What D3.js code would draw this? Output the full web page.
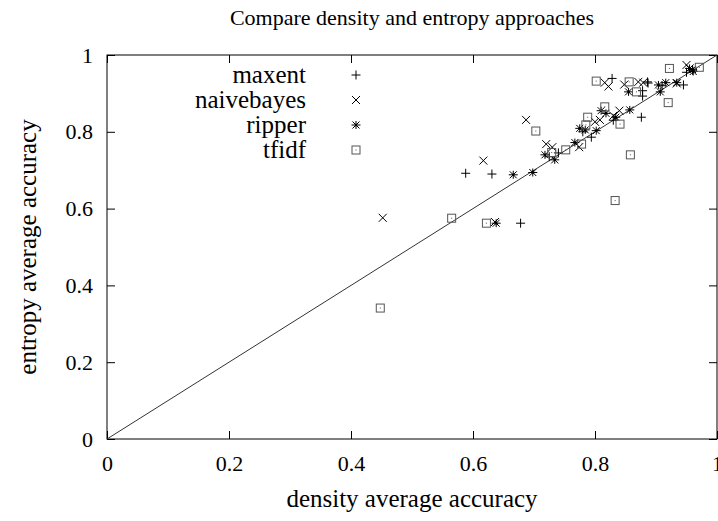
<!DOCTYPE html>
<html>
<head>
<meta charset="utf-8">
<script src="https://cdn.jsdelivr.net/npm/d3@7"></script>
<style>
  body { margin: 0; background: #fff; }
  text { font-family: "Liberation Serif", "DejaVu Serif", serif; fill: #000; }
</style>
</head>
<body>
<svg id="chart"></svg>
<script>
// points are [density accuracy, entropy accuracy]
var maxent = [
  [0.588, 0.692], [0.631, 0.690], [0.678, 0.562], [0.828, 0.939], [0.886, 0.930],
  [0.878, 0.893], [0.876, 0.838], [0.794, 0.786], [0.945, 0.922], [0.887, 0.927],
  [0.878, 0.907], [0.960, 0.960], [0.950, 0.955], [0.740, 0.745], [0.780, 0.800],
  [0.725, 0.735], [0.830, 0.830], [0.910, 0.920]
]
var naivebayes = [
  [0.452, 0.576], [0.617, 0.725], [0.687, 0.831], [0.720, 0.768], [0.730, 0.760],
  [0.774, 0.760], [0.816, 0.928], [0.822, 0.918], [0.848, 0.923], [0.871, 0.930],
  [0.840, 0.855], [0.800, 0.826], [0.808, 0.831], [0.950, 0.974], [0.879, 0.928],
  [0.934, 0.926], [0.955, 0.965], [0.830, 0.842], [0.636, 0.565]
]
var ripper = [
  [0.638, 0.562], [0.666, 0.688], [0.698, 0.694], [0.718, 0.740], [0.734, 0.727],
  [0.767, 0.772], [0.775, 0.809], [0.784, 0.805], [0.802, 0.803], [0.818, 0.848],
  [0.834, 0.838], [0.857, 0.857], [0.855, 0.904], [0.904, 0.922], [0.907, 0.904],
  [0.916, 0.928], [0.961, 0.957], [0.955, 0.965], [0.934, 0.928], [0.960, 0.962],
  [0.810, 0.855]
]
var tfidf = [
  [0.448, 0.341], [0.565, 0.575], [0.622, 0.562], [0.703, 0.802], [0.729, 0.746],
  [0.752, 0.753], [0.778, 0.768], [0.785, 0.818], [0.788, 0.838], [0.802, 0.932],
  [0.816, 0.865], [0.841, 0.820], [0.856, 0.930], [0.868, 0.904], [0.920, 0.876],
  [0.922, 0.965], [0.971, 0.968], [0.858, 0.740], [0.833, 0.621]
]
var series_names = ['maxent', 'naivebayes', 'ripper', 'tfidf']
var series_data = [maxent, naivebayes, ripper, tfidf]
var tick_values = [0, 0.2, 0.4, 0.6, 0.8, 1]

var width = 718, height = 521
var margin = {top: 55, right: 1, bottom: 82, left: 107}
var serif = '"Liberation Serif", "DejaVu Serif", serif'

var svg = d3.select('#chart')
    .attr('width', width)
    .attr('height', height)

var x = d3.scaleLinear().domain([0, 1]).range([margin.left, width - margin.right])
var y = d3.scaleLinear().domain([0, 1]).range([height - margin.bottom, margin.top])

// draws one marker of the given kind centred on 0,0
function drawMarker(g, kind) {
    let s = 4.5
    if (kind == 'maxent') {
        g.append('path').attr('d', 'M' + -s + ',0H' + s + 'M0,' + -s + 'V' + s)
    } else if (kind == 'naivebayes') {
        g.append('path').attr('d', 'M-4,-4L4,4M-4,4L4,-4')
    } else if (kind == 'ripper') {
        g.append('path').attr('d', 'M' + -s + ',0H' + s + 'M-3.5,-3.5L3.5,3.5M-3.5,3.5L3.5,-3.5M0,-4V4')
        g.append('circle').attr('r', 1.3).attr('fill', '#000').attr('stroke', 'none')
    } else {
        g.append('rect').attr('x', -4).attr('y', -4).attr('width', 8).attr('height', 8)
            .attr('fill', 'none').attr('stroke', '#555')
        g.append('rect').attr('x', -0.5).attr('y', -0.5).attr('width', 1).attr('height', 1)
            .attr('fill', '#555').attr('stroke', 'none')
    }
    g.attr('stroke', '#000').attr('stroke-width', 1).attr('fill', 'none')
}

// axes, ticks inward on all four sides
var xAxis = d3.axisBottom(x).tickValues(tick_values).tickSizeInner(-8).tickSizeOuter(0)
    .tickFormat(d3.format('~g')).tickPadding(16)
var yAxis = d3.axisLeft(y).tickValues(tick_values).tickSizeInner(-8).tickSizeOuter(0)
    .tickFormat(d3.format('~g')).tickPadding(14)

var gx = svg.append('g').attr('transform', 'translate(0,' + y(0) + ')').call(xAxis)
var gy = svg.append('g').attr('transform', 'translate(' + x(0) + ',0)').call(yAxis)
svg.append('g').attr('transform', 'translate(0,' + y(1) + ')')
    .call(d3.axisTop(x).tickValues(tick_values).tickSizeInner(-8).tickSizeOuter(0).tickFormat(''))
svg.append('g').attr('transform', 'translate(' + x(1) + ',0)')
    .call(d3.axisRight(y).tickValues(tick_values).tickSizeInner(-8).tickSizeOuter(0).tickFormat(''))

svg.selectAll('.domain').remove()
svg.selectAll('.tick line').attr('stroke', '#000')
gx.attr('font-family', serif).attr('font-size', 22)
gy.attr('font-family', serif).attr('font-size', 22)
gx.selectAll('text').style('font-family', serif).style('font-size', '22px').attr('dy', '0.71em')
gy.selectAll('text').style('font-family', serif).style('font-size', '22px')

svg.append('rect')
    .attr('x', x(0)).attr('y', y(1))
    .attr('width', x(1) - x(0)).attr('height', y(0) - y(1))
    .attr('fill', 'none').attr('stroke', '#000').attr('stroke-width', 1)

// diagonal y = x
svg.append('line')
    .attr('x1', x(0)).attr('y1', y(0))
    .attr('x2', x(1)).attr('y2', y(1))
    .attr('stroke', '#333').attr('stroke-width', 1)

// points
series_names.forEach((name, i) => {
    svg.append('g').selectAll('g')
        .data(series_data[i])
        .enter().append('g')
        .attr('transform', (d) => 'translate(' + x(d[0]) + ',' + y(d[1]) + ')')
        .each(function () { drawMarker(d3.select(this), name) })
})

// legend
var legend = svg.append('g').selectAll('g')
    .data(series_names)
    .enter().append('g')
    .attr('transform', (d, i) => 'translate(0,' + (75 + i * 25) + ')')

legend.append('text')
    .attr('x', 306)
    .attr('dy', '0.32em')
    .attr('text-anchor', 'end')
    .style('font-size', '25px')
    .text((d) => d)

legend.append('g')
    .attr('transform', 'translate(356,0)')
    .each(function (d) { drawMarker(d3.select(this), d) })

// titles
svg.append('text')
    .attr('x', 412).attr('y', 25)
    .attr('text-anchor', 'middle')
    .style('font-size', '22px')
    .text('Compare density and entropy approaches')

svg.append('text')
    .attr('x', 412).attr('y', 507)
    .attr('text-anchor', 'middle')
    .style('font-size', '25px')
    .text('density average accuracy')

svg.append('text')
    .attr('transform', 'translate(36,' + 247 + ') rotate(-90)')
    .attr('text-anchor', 'middle')
    .style('font-size', '25px')
    .text('entropy average accuracy')
</script>
</body>
</html>
